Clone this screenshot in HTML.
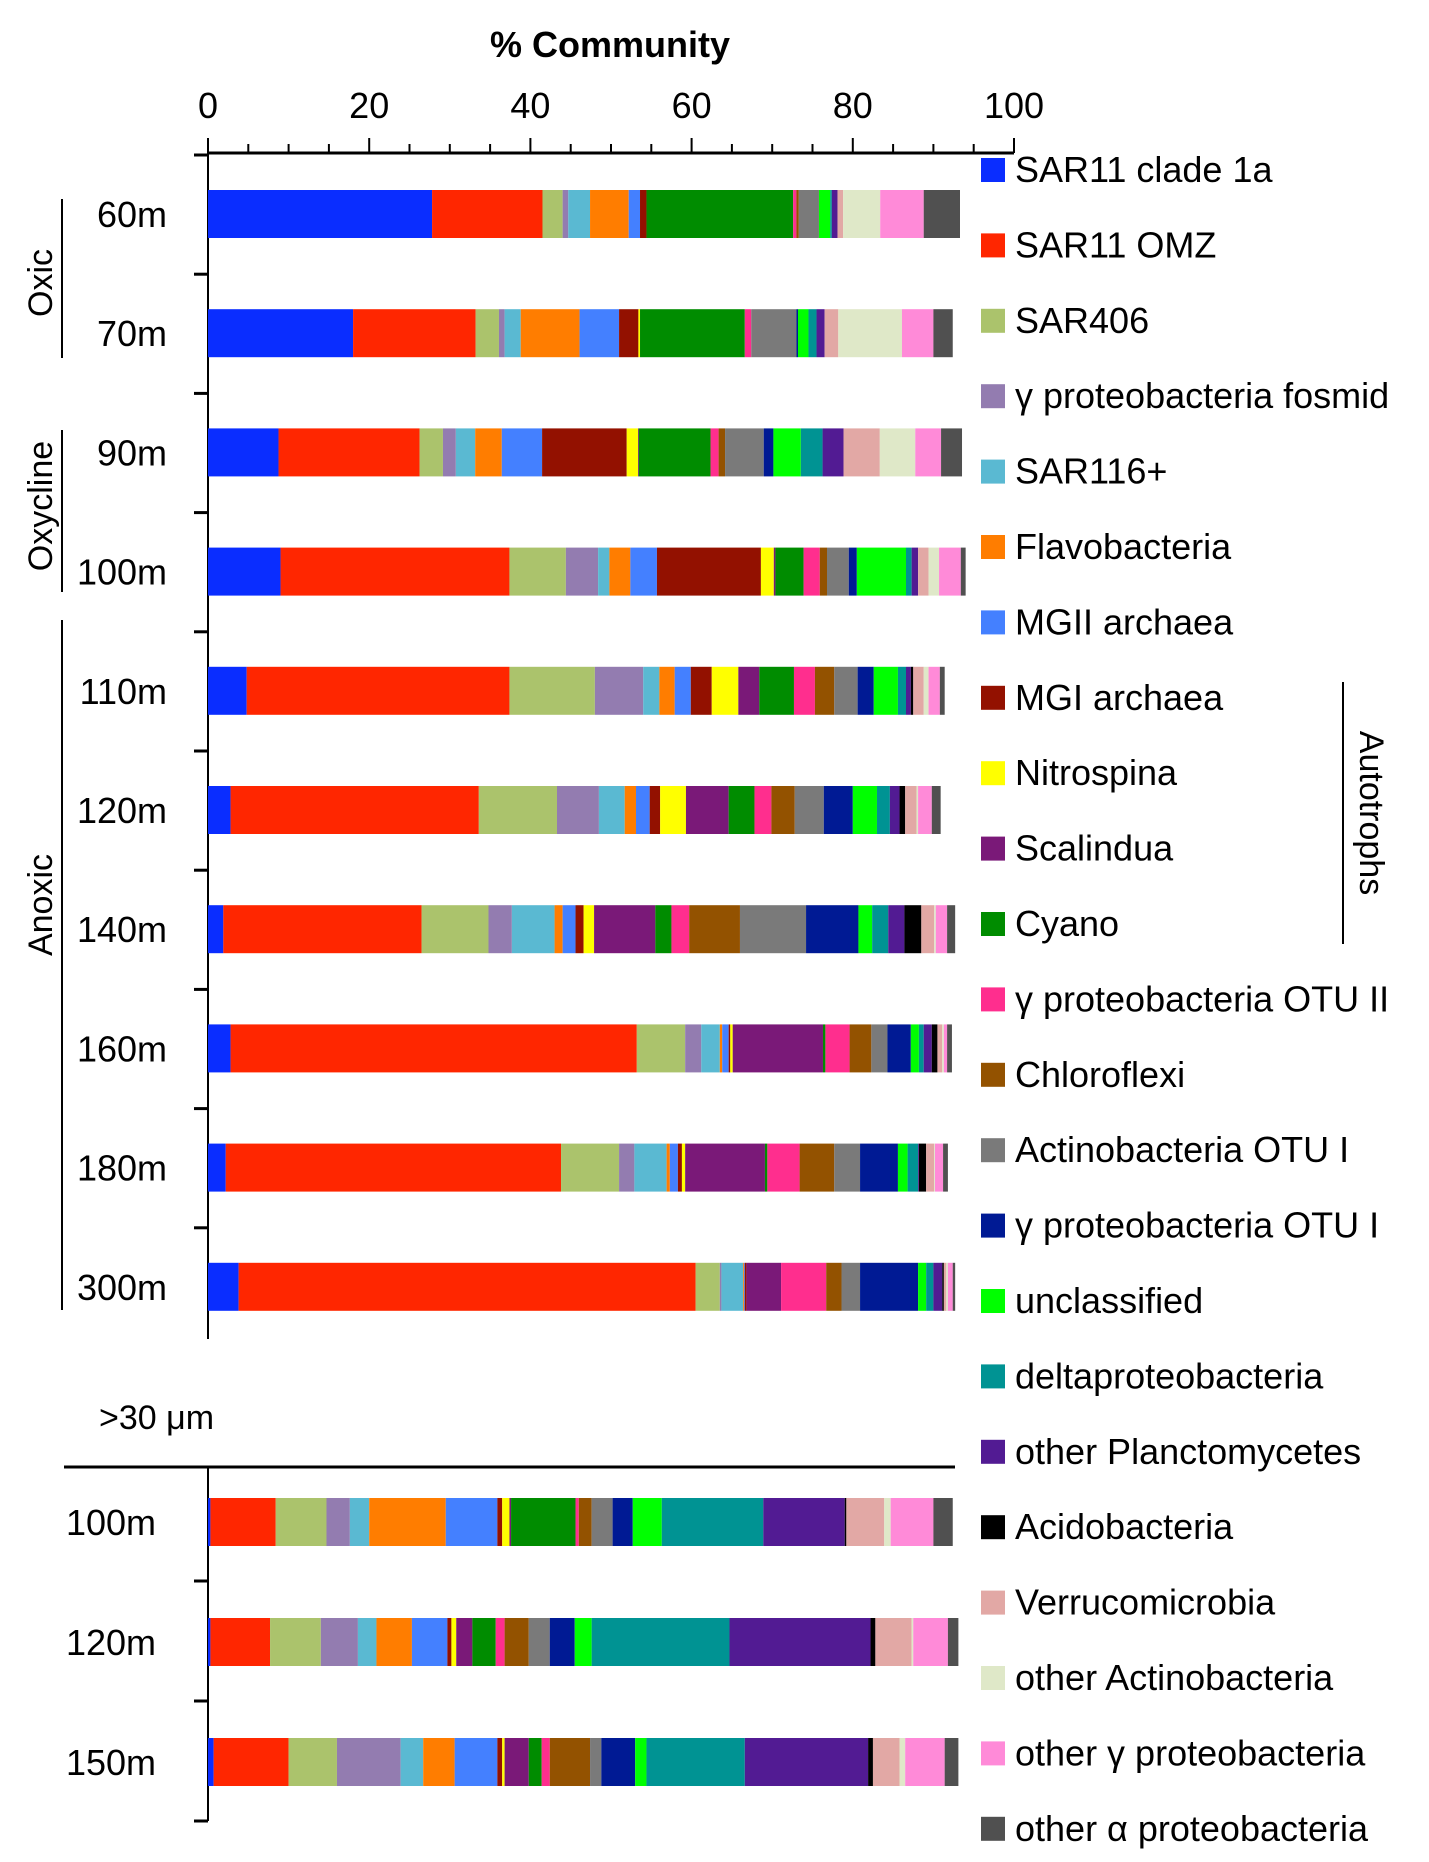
<!DOCTYPE html>
<html><head><meta charset="utf-8"><style>
html,body{margin:0;padding:0;background:#fff;}
svg{display:block;font-family:"Liberation Sans",sans-serif;}
</style></head><body>
<svg id="chart" width="1429" height="1862" viewBox="0 0 1429 1862" xmlns="http://www.w3.org/2000/svg">
<text x="610" y="57" font-size="36" font-weight="bold" text-anchor="middle">% Community</text>
<g id="axes"></g>
<g id="bars"></g>
<g id="legend"></g>
<g>
<line x1="62" y1="199" x2="62" y2="358" stroke="#000" stroke-width="2"/>
<text transform="translate(52,283) rotate(-90)" font-size="34" text-anchor="middle">Oxic</text>
<line x1="62" y1="430" x2="62" y2="592" stroke="#000" stroke-width="2"/>
<text transform="translate(52,506) rotate(-90)" font-size="34" text-anchor="middle">Oxycline</text>
<line x1="62" y1="620" x2="62" y2="1310" stroke="#000" stroke-width="2"/>
<text transform="translate(52,905) rotate(-90)" font-size="34" text-anchor="middle">Anoxic</text>
<line x1="1343" y1="682" x2="1343" y2="944" stroke="#000" stroke-width="2"/>
<text transform="translate(1360,813) rotate(90)" font-size="34" text-anchor="middle">Autotrophs</text>
<text x="99" y="1429" font-size="34">&gt;30 μm</text>
<line x1="64" y1="1467" x2="955" y2="1467" stroke="#000" stroke-width="3"/>
</g>
</svg>
<script>
const seriesNames = ["SAR11 clade 1a","SAR11 OMZ","SAR406","γ proteobacteria fosmid","SAR116+","Flavobacteria","MGII archaea","MGI archaea","Nitrospina","Scalindua","Cyano","γ proteobacteria OTU II","Chloroflexi","Actinobacteria OTU I","γ proteobacteria OTU I","unclassified","deltaproteobacteria","other Planctomycetes","Acidobacteria","Verrucomicrobia","other Actinobacteria","other γ proteobacteria","other α proteobacteria"];
const seriesColors = ["#0a2dff","#ff2600","#abc36c","#937cb0","#5ab9d2","#ff7d00","#4480ff","#931100","#ffff00","#7a1978","#008c00","#ff2e8e","#935200","#7a7a7a","#001a94","#00ff00","#009393","#521b93","#000000","#e2a8a5","#dfe8c8","#ff8ad8","#505050"];
const sampleLabels = ["60m","70m","90m","100m","110m","120m","140m","160m","180m","300m","100m","120m","150m"];
const xTicks = [0,20,40,60,80,100];
const v60  = [27.8,13.7,2.5,0.7,2.7,4.8,1.4,0.8,0,0,18.2,0.4,0.3,2.5,0,1.4,0.2,0.7,0,0.7,4.6,5.4,4.5];
const v70  = [18.0,15.2,2.9,0.7,2.0,7.3,4.9,2.4,0.2,0,13.0,0.8,0,5.6,0.2,1.3,1.0,1.0,0,1.7,7.9,3.9,2.4];
const v90  = [8.75,17.5,2.9,1.6,2.4,3.3,5.0,10.5,1.4,0.1,8.9,1.0,0.8,4.8,1.2,3.4,2.7,2.6,0,4.5,4.4,3.2,2.6];
const v100 = [9.0,28.4,7.0,4.0,1.4,2.6,3.3,12.9,1.6,0.2,3.5,2.0,0.9,2.7,1.0,6.1,0.7,0.8,0,1.3,1.3,2.7,0.6];
const v110 = [4.8,32.6,10.6,6.0,2.0,1.9,2.0,2.6,3.3,2.6,4.3,2.6,2.4,2.9,2.0,3.0,1.0,0.6,0.3,1.3,0.6,1.4,0.6];
const v120 = [2.8,30.8,9.7,5.2,3.2,1.4,1.7,1.3,3.2,5.3,3.2,2.1,2.9,3.6,3.6,3.0,1.6,1.2,0.7,1.4,0.2,1.7,1.1];
const v140 = [1.9,24.6,8.3,2.9,5.3,1.0,1.6,1.0,1.3,7.6,2.0,2.2,6.3,8.2,6.5,1.7,2.0,2.0,2.1,1.6,0.2,1.4,1.0];
const v160 = [2.8,50.4,6.0,2.0,2.3,0.3,0.8,0.2,0.3,11.2,0.3,3.0,2.7,2.0,2.9,1.0,0.6,1.0,0.7,0.6,0.2,0.4,0.6];
const v180 = [2.2,41.6,7.2,1.9,4.0,0.4,1.0,0.5,0.4,9.9,0.3,4.0,4.3,3.2,4.7,1.2,1.3,0.1,0.9,1.0,0.1,1.0,0.6];
const v300 = [3.8,56.7,3.0,0.2,2.7,0.1,0.1,0.2,0,4.3,0,5.6,1.9,2.3,7.2,1.0,0.9,1.1,0.2,0.3,0.2,0.6,0.3];
const b100 = [0.3,8.1,6.3,2.9,2.4,9.5,6.4,0.6,0.9,0.2,8.0,0.4,1.6,2.6,2.5,3.6,12.6,10.1,0.2,4.7,0.8,5.3,2.4];
const b120 = [0.3,7.4,6.3,4.6,2.3,4.4,4.4,0.5,0.6,2.0,2.9,1.1,3.0,2.6,3.1,2.1,17.1,17.5,0.6,4.5,0.2,4.3,1.3];
const b150 = [0.7,9.3,6.0,7.9,2.8,3.9,5.3,0.6,0.3,3.0,1.6,1.0,5.0,1.4,4.2,1.4,12.2,15.3,0.6,3.3,0.7,4.9,1.7];
const sampleValues = [v60,v70,v90,v100,v110,v120,v140,v160,v180,v300,b100,b120,b150];

const NS = "http://www.w3.org/2000/svg";
const X0 = 208, X1 = 1014;
function xScale(p){ return X0 + (X1 - X0) * p / 100; }
const barH = 48;
function barTop(i){ return i < 10 ? 190 + i * 119.2 : 1498 + (i - 10) * 120; }
function mk(tag, attrs, parent){ const e = document.createElementNS(NS, tag); for (const k in attrs) e.setAttribute(k, attrs[k]); parent.appendChild(e); return e; }

const axes = document.getElementById("axes");
let ax = mk("line", {x1:X0, y1:153, x2:X1, y2:153, stroke:"#000", "stroke-width":3}, axes);


for (let p = 0; p <= 100; p += 5) {
  const major = p % 20 === 0;
  mk("line", {x1:xScale(p), y1:153, x2:xScale(p), y2: major ? 138 : 144, stroke:"#000", "stroke-width":2}, axes);
}
xTicks.forEach(t => {
  const tx = mk("text", {x:xScale(t), y:118, "font-size":36, "text-anchor":"middle"}, axes);
  
  
  tx.textContent = t;
});
let ya = mk("line", {x1:X0, y1:153, x2:X0, y2:1339, stroke:"#000", "stroke-width":2}, axes);


let yb = mk("line", {x1:X0, y1:1467, x2:X0, y2:1821, stroke:"#000", "stroke-width":2}, axes);


for (let i = 0; i < 10; i++) {
  const y = 155 + i * 119.2;
  mk("line", {x1:X0-14, y1:y, x2:X0, y2:y, stroke:"#000", "stroke-width":3}, axes);
}
[1581,1701,1821].forEach(y => mk("line", {x1:X0-14, y1:y, x2:X0, y2:y, stroke:"#000", "stroke-width":3}, axes));

const bars = document.getElementById("bars");
sampleValues.forEach((vals, i) => {
  const g = mk("g", {}, bars);
  
  
  let cum = 0;
  const top = barTop(i);
  vals.forEach((v, s) => {
    if (v > 0) {
      const r = mk("rect", {x:xScale(cum), y:top, width:xScale(cum+v)-xScale(cum), height:barH, fill:seriesColors[s]}, g);
      
      
    }
    cum += v;
  });
  const lbl = mk("text", {x: i >= 10 ? 156 : 167, y: top + barH/2 + 13, "font-size":36, "text-anchor":"end"}, g);
  
  
  lbl.textContent = sampleLabels[i];
});

const legend = document.getElementById("legend");
seriesNames.forEach((n, s) => {
  const cy = 170 + s * 75.4;
  const g = mk("g", {}, legend);
  
  
  mk("rect", {x:981, y:cy-12, width:24, height:24, fill:seriesColors[s]}, g);
  const t = mk("text", {x:1015, y:cy+12, "font-size":36}, g);
  t.textContent = n;
});
</script>
</body></html>
